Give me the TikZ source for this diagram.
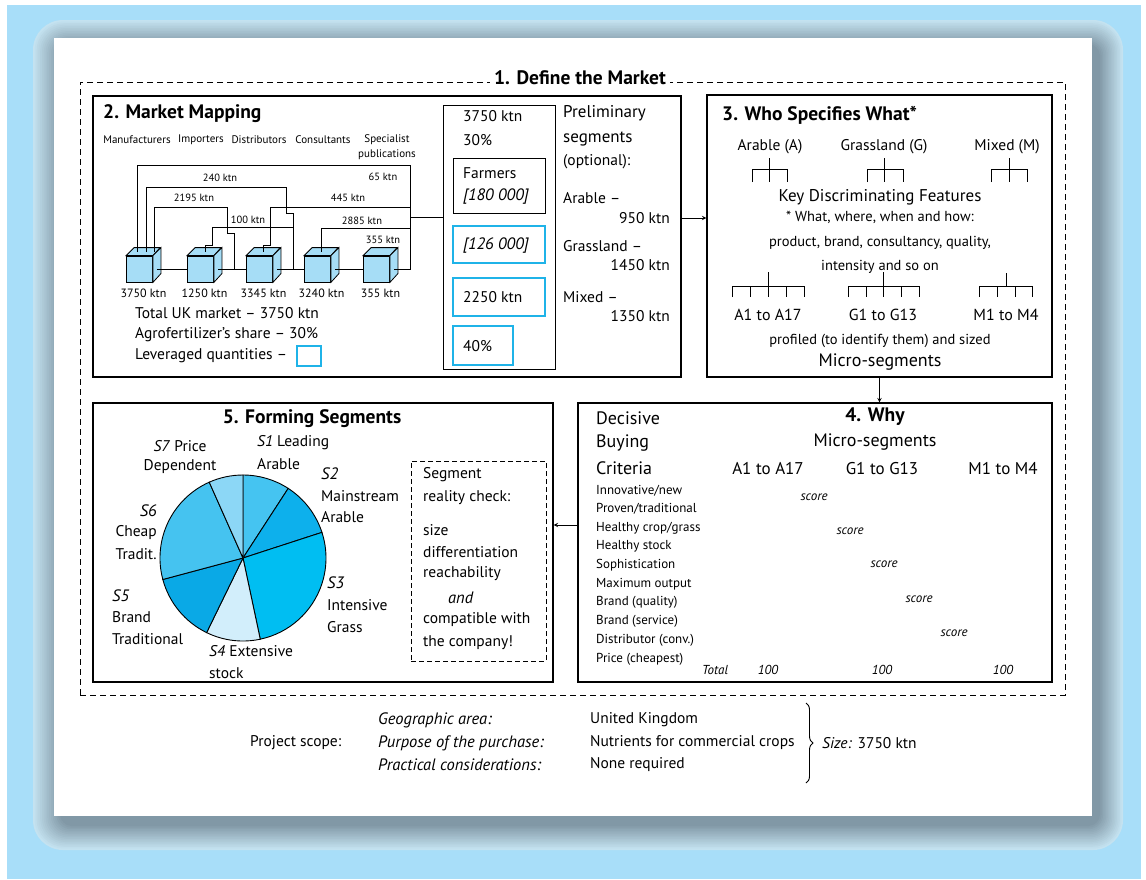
\documentclass[tikz,border=0pt]{standalone}
\usepackage{fontspec}
\setmainfont{PT Sans}
\usetikzlibrary{positioning, fit, calc, decorations.pathreplacing}

\definecolor{skyback}{HTML}{A8DEF9}
\definecolor{rimlight}{HTML}{C4E2F0}
\definecolor{rimshade}{HTML}{8198A6}
\definecolor{cubeblue}{HTML}{A6DDF6}
\definecolor{cyanline}{HTML}{1FB3E8}
\definecolor{pieA}{HTML}{45C4F1}
\definecolor{pieB}{HTML}{0DB0EC}
\definecolor{pieC}{HTML}{00BEF2}
\definecolor{pieD}{HTML}{D2EEFB}
\definecolor{pieE}{HTML}{0AA9E6}
\definecolor{pieF}{HTML}{45C3F0}
\definecolor{pieG}{HTML}{8CD7F6}

\begin{document}
\begin{tikzpicture}[x=1pt, y=-1pt,
    panel/.style={draw, line width=1.2pt, inner sep=0pt},
    bluebox/.style={draw=cyanline, line width=1.8pt, inner sep=0pt},
    crate/.style={draw, line width=0.8pt, fill=cubeblue, minimum size=26pt, inner sep=0pt},
    wire/.style={line width=0.9pt},
    arr/.style={->, >=stealth, line width=1pt},
    hd/.style={font=\bfseries\fontsize{19.5}{23}\selectfont, inner sep=0pt},
    lbl/.style={font=\fontsize{15.5}{18}\selectfont, inner sep=0pt, anchor=west},
    lbli/.style={font=\itshape\fontsize{16.5}{19}\selectfont, inner sep=0pt, anchor=west},
    txtbig/.style={font=\fontsize{17}{20}\selectfont, inner sep=0pt},
    txtmid/.style={font=\fontsize{14.5}{17}\selectfont, inner sep=0pt},
    crit/.style={font=\fontsize{13}{15}\selectfont, inner sep=0pt, anchor=west},
    scorelbl/.style={font=\itshape\fontsize{13}{15}\selectfont, inner sep=0pt},
    netlbl/.style={font=\fontsize{10.5}{12}\selectfont, inner sep=0pt},
  ]
\useasboundingbox (0,0) rectangle (1146,879);

% page, blue surround and shaded rim
\fill[white] (0,0) rectangle (1146,879);
\fill[skyback] (7,5) rectangle (1141,879);
\foreach \i in {0,...,15}{
  \pgfmathsetmacro\fa{\i/15}
  \pgfmathtruncatemacro\fp{100*\fa}
  \pgfmathsetmacro\rc{30-1.2*\i}
  \fill[rimshade!\fp!rimlight, rounded corners=\rc pt]
    ({33+27*\fa},{20+24*\fa}) rectangle ({1123-23*\fa},{850-24*\fa});
}
\fill[white] (54,38) rectangle (1092,816);

% === 1. Define the Market ===
\node[draw, line width=0.9pt, dash pattern=on 6pt off 4pt, inner sep=0pt,
      fit={(80,82) (1065,695)}] (market) {};
\node[hd, fill=white, inner xsep=4pt, inner ysep=1pt] (markettitle) at (580,78) {1. Define the Market};

% === 2. Market Mapping ===
\node[panel, fit={(93,96) (681,377)}] (mm) {};
\node[hd, anchor=west] (mmtitle) at (103,114) {2. Market Mapping};
\foreach \x/\s in {137/Manufacturers, 201/Importers, 259/Distributors, 323/Consultants, 387/Specialist}
  \node[netlbl, font=\fontsize{11}{13}\selectfont] (h\s) at (\x,140) {\s};
\node[netlbl, font=\fontsize{11}{13}\selectfont] (hpub) at (387,155) {publications};

% the five cubes
\foreach \n/\x/\q in {1/139.5/3750, 2/200.5/1250, 3/259.5/3345, 4/317.5/3240, 5/376.5/355}{
  \node[crate] (c\n) at (\x,269) {};
  \draw[line width=0.8pt, fill=cubeblue] (c\n.north west) -- ++(8,-8) -- ++(26,0) -- (c\n.north east) -- cycle;
  \draw[line width=0.8pt, fill=cubeblue] (c\n.north east) -- ++(8,-8) -- ++(0,26) -- (c\n.south east) -- cycle;
  \node[netlbl, font=\fontsize{12}{14}\selectfont] (q\n) at ([xshift=4pt, yshift=-11pt]c\n.south) {\q{} ktn};
}

% flows between the cubes
\coordinate (pubtop) at (410,165);
\coordinate (hub) at (410,217);
\coordinate (j23) at (234,269);
\coordinate (j34) at (293,269);
\foreach \a/\b in {1/2, 2/3, 3/4, 4/5}
  \draw[wire] ([xshift=4pt]c\a.east) -- (c\b.west);
\draw[wire] ([xshift=-2.5pt, yshift=4pt]c1.north) |- (pubtop) |- ([xshift=4pt]c5.east);
\draw[wire] ([xshift=6.5pt, yshift=4pt]c1.north) |- (286,187) -- (286,213) -| (j34);
\draw[wire] ([xshift=14.5pt, yshift=4pt]c1.north) |- (227,207) -- (227,233) -| (j23);
\draw[wire] ([xshift=4.5pt, yshift=4pt]c2.north) |- (212,245) |- (293,227);
\draw[wire] ([xshift=3.5pt, yshift=4pt]c3.north) |- (270,245) |- (410,207);
\draw[wire] ([xshift=4pt, yshift=4pt]c4.north) |- (410,228);
\foreach \x/\y/\s in {220/178/240, 194/198/2195, 248/220/100, 383/177/65, 348/198/445, 362/221/2885, 383/240/355}
  \node[netlbl] at (\x,\y) {\s{} ktn};

\node[lbl] (total) at (135,313) {Total UK market – 3750 ktn};
\node[lbl] (share) at (135,335) {Agrofertilizer’s share – 30\%};
\node[lbl] (levtxt) at (135,356) {Leveraged quantities –};
\node[bluebox, fit={(297,346) (321,366)}] (levkey) {};

% leveraged quantities column
\node[panel, line width=1pt, fit={(443,105) (555,369)}] (seg) {};
\draw[wire] (hub) -- (hub -| seg.west);
\node[lbl] (segsize) at (463,116) {3750 ktn};
\node[lbl] (segshare) at (463,140) {30\%};
\node[panel, line width=1pt, fit={(453,158) (545,213)}] (farm) {};
\node[lbl] (farmtxt) at (463,173) {Farmers};
\node[lbli] (farmnum) at (463,197) {[180 000]};
\node[bluebox, fit={(453,226) (545,263)}] (lev1) {};
\node[lbli] at (463,246) {[126 000]};
\node[bluebox, fit={(453,278) (545,316)}] (lev2) {};
\node[lbl] at (463,297) {2250 ktn};
\node[bluebox, fit={(453,326) (513,365)}] (lev3) {};
\node[lbl] at (463,346) {40\%};

% preliminary segments
\node[txtbig, anchor=west] (pre1) at (563,113) {Preliminary};
\node[txtbig, anchor=west] (pre2) at (563,139) {segments};
\node[lbl] (pre3) at (563,162) {(optional):};
\node[lbl] (arab) at (563,198) {Arable –};
\node[lbl, anchor=east] at (670,218) {950 ktn};
\node[lbl] (grass) at (563,246) {Grassland –};
\node[lbl, anchor=east] at (670,265) {1450 ktn};
\node[lbl] (mixed) at (563,297) {Mixed –};
\node[lbl, anchor=east] at (670,316) {1350 ktn};

% === 3. Who Specifies What ===
\node[panel, fit={(707,95) (1052,377)}] (who) {};
\node[hd, anchor=west] (whotitle) at (722,115) {3. Who Specifies What*};
\foreach \x/\s in {770/Arable (A), 884/Grassland (G), 1007/Mixed (M)}
  \node[lbl, anchor=center] at (\x,147) {\s};
\foreach \l/\s/\r in {752/769/787, 867/884/903, 991/1009/1027}
  \draw[wire] (\s,158) -- (\s,182) (\l,182) -- (\l,169) -- (\r,169) -- (\r,182);
\node[txtbig] (kdf) at (880,197) {Key Discriminating Features};
\node[txtmid] at (880,217) {* What, where, when and how:};
\node[txtmid] at (880,243) {product, brand, consultancy, quality,};
\node[txtmid] at (880,267) {intensity and so on};
% micro-segment trees
\draw[wire] (732,297) |- (804,286) -- (804,297) (768,272) -- (768,297);
\foreach \x in {750,786} \draw[wire] (\x,286) -- (\x,297);
\draw[wire] (848,297) |- (919,286) -- (919,297) (883.5,272) -- (883.5,297);
\foreach \x in {866,901} \draw[wire] (\x,286) -- (\x,297);
\draw[wire] (979,297) |- (1032,286) -- (1032,297) (1006,273) -- (1006,286);
\foreach \x in {997,1015} \draw[wire] (\x,286) -- (\x,297);
\foreach \x/\s in {768/A1 to A17, 883/G1 to G13, 1006/M1 to M4}
  \node[txtbig, font=\fontsize{16}{19}\selectfont] at (\x,315) {\s};
\node[txtmid] at (880,341) {profiled (to identify them) and sized};
\node[txtbig, font=\fontsize{18}{21}\selectfont] (micro) at (880,362) {Micro-segments};

% === 4. Why ===
\node[panel, fit={(578,403) (1052,682)}] (why) {};
\node[hd] (whytitle) at (875,417) {4. Why};
\node[txtbig, font=\fontsize{18}{21}\selectfont] at (875,442) {Micro-segments};
\foreach \y/\s in {418/Decisive, 443/Buying, 468/Criteria}
  \node[txtbig, font=\fontsize{18}{21}\selectfont, anchor=west] at (596,\y) {\s};
\foreach \x/\s in {768/A1 to A17, 882/G1 to G13, 1003/M1 to M4}
  \node[txtbig] at (\x,469) {\s};
\foreach \s [count=\i from 0] in {Innovative/new, Proven/traditional, Healthy crop/grass, Healthy stock,
    Sophistication, Maximum output, Brand (quality), Brand (service), Distributor (conv.), Price (cheapest)}
  \node[crit] at (596,{490.5+18.7*\i}) {\s};
\foreach \x/\y in {814/497, 850/531, 884/564, 919/599, 954/633}
  \node[scorelbl] at (\x,\y) {score};
\node[scorelbl, anchor=west] at (702,670) {Total};
\foreach \x in {768,882,1003}
  \node[scorelbl] at (\x,670) {100};

% === 5. Forming Segments ===
\node[panel, fit={(93,403) (553,682)}] (form) {};
\node[hd] (formtitle) at (312,419) {5. Forming Segments};
\coordinate (pie) at (243,558);
\begin{scope}[shift={(pie)}, yscale=-1]
  \foreach \a/\b/\c in {57/90/pieA, 18/57/pieB, -78/18/pieC, -116/-78/pieD,
                        -165/-116/pieE, 114/195/pieF, 90/114/pieG}
    \draw[fill=\c, line width=0.9pt] (0,0) -- (\a:83) arc[start angle=\a, end angle=\b, radius=83] -- cycle;
\end{scope}
\node[lbl] at (257,443) {\textit{S1} Leading};
\node[lbl] at (257,464) {Arable};
\node[lbli] at (321,474) {S2};
\node[lbl] at (321,496) {Mainstream};
\node[lbl] at (321,517) {Arable};
\node[lbli] at (327,583) {S3};
\node[lbl] at (327,605) {Intensive};
\node[lbl] at (327,627) {Grass};
\node[lbl] at (209,651) {\textit{S4} Extensive};
\node[lbl] at (209,673) {stock};
\node[lbli] at (112,596) {S5};
\node[lbl] at (112,617) {Brand};
\node[lbl] at (112,639) {Traditional};
\node[lbli, anchor=east] at (157,511) {S6};
\node[lbl, anchor=east] at (157,533) {Cheap};
\node[lbl, anchor=east] at (157,554) {Tradit.};
\node[lbl, anchor=center] at (180,446) {\textit{S7} Price};
\node[lbl, anchor=center] at (180,467) {Dependent};

% reality check
\node[draw, line width=0.9pt, dash pattern=on 5pt off 3pt, inner sep=0pt,
      fit={(411,461) (546,661)}] (check) {};
\foreach \y/\s in {475/Segment, 498/reality check:, 530/size, 552/differentiation, 574/reachability,
                   620/compatible with, 643/the company!}
  \node[lbl] at (423,\y) {\s};
\node[lbli] at (448,598) {and};

% links between the steps
\coordinate (rowA) at (0,218);
\coordinate (rowB) at (0,525);
\draw[arr] (mm.east |- rowA) -- (who.west |- rowA);
\draw[arr] (who.south) -- (who.south |- why.north);
\draw[arr] (why.west |- rowB) -- (form.east |- rowB);

% project scope
\node[lbl] (scope) at (250,743) {Project scope:};
\node[lbli] (geo) at (378,720) {Geographic area:};
\node[lbli] (purp) at (378,743) {Purpose of the purchase:};
\node[lbli] (prac) at (378,765) {Practical considerations:};
\node[lbl] (uk) at (590,720) {United Kingdom};
\node[lbl] (crops) at (590,743) {Nutrients for commercial crops};
\node[lbl] (none) at (590,765) {None required};
\draw[line width=0.9pt, decorate, decoration={brace, amplitude=7pt}] (806,703) -- (806,783);
\node[lbl] (size) at (822,743) {\textit{Size:} 3750 ktn};
\end{tikzpicture}
\end{document}
